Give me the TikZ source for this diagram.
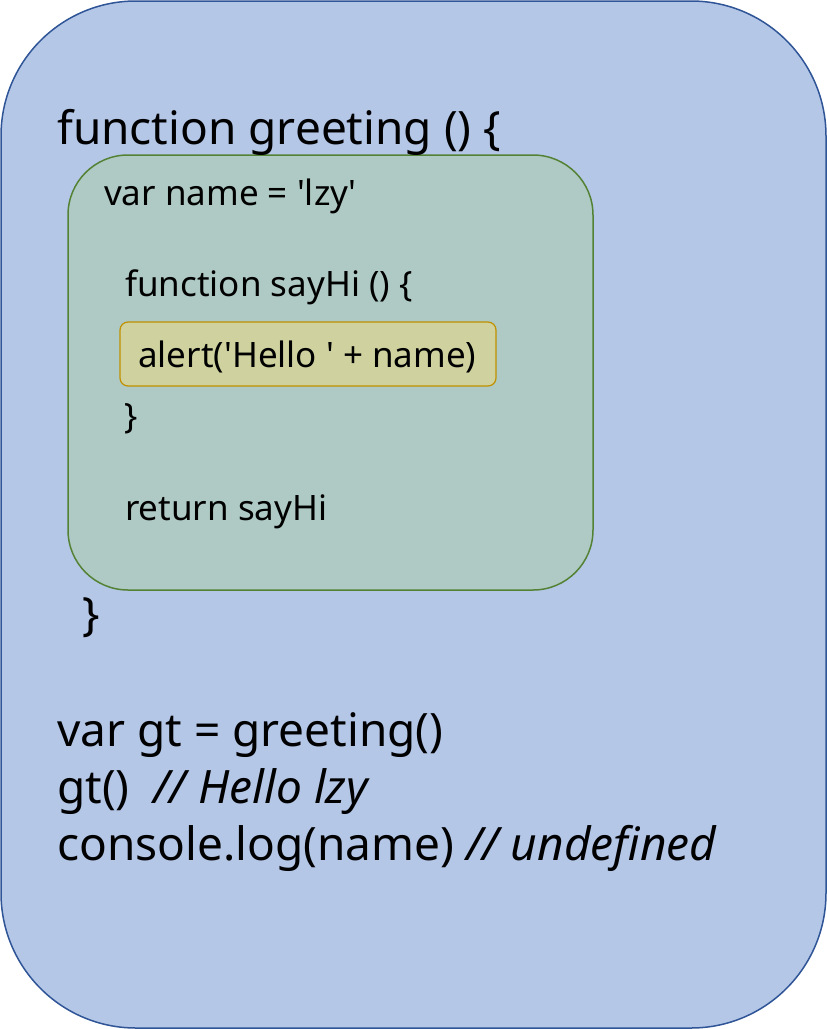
\documentclass[tikz,border=0pt]{standalone}
\usepackage{fontspec}
\setmainfont{Noto Sans}
\usetikzlibrary{positioning}
\definecolor{outerfill}{HTML}{B4C7E7}
\definecolor{outerline}{HTML}{2F5597}
\definecolor{innerfill}{HTML}{AFCAC4}
\definecolor{innerline}{HTML}{548235}
\definecolor{alertfill}{HTML}{CFD29F}
\definecolor{alertline}{HTML}{BF9000}
\def\sq{\textquotesingle}
\tikzset{
  bigcode/.style={anchor=base west, inner sep=0pt, font=\fontsize{46}{50}\selectfont},
  smallcode/.style={anchor=base west, inner sep=0pt, font=\fontsize{35}{39}\selectfont},
}
\begin{document}
\begin{tikzpicture}[x=1pt, y=-1pt]
			%%%%% START %%%%%
			\useasboundingbox (0, 0) rectangle (827, 1029);
			
			\draw[fill=outerfill, draw=outerline, line width=1.5pt, rounded corners=135pt] (1, 1) rectangle (826, 1028);
			\draw[fill=innerfill, draw=innerline, line width=1.5pt, rounded corners=60pt] (68, 155) rectangle (593, 590);
			\draw[fill=alertfill, draw=alertline, line width=1.2pt, rounded corners=8pt] (120, 322) rectangle (496, 386);
			
			\node[bigcode] (fn) at (57, 144) {function greeting () \{};
			\node[smallcode] (var) at (104, 205) {var name = \sq lzy\sq};
			\node[smallcode] (say) at (125, 296) {function sayHi () \{};
			\node[smallcode] (alert) at (138, 367) {alert(\sq Hello \sq\ + name)};
			\node[smallcode] (close) at (124, 428) {\}};
			\node[smallcode] (ret) at (125, 520) {return sayHi};
			\node[bigcode] (fnclose) at (82, 630) {\}};
			
			\node[bigcode] (gt) at (57, 746) {var gt = greeting()};
			\node[bigcode] (call) at (57, 803) {gt()\ \ \textit{// Hello lzy}};
			\node[bigcode] (log) at (57, 860) {console.log(name) \textit{// undefined}};
			%%%%% END %%%%%
\end{tikzpicture}
\end{document}
